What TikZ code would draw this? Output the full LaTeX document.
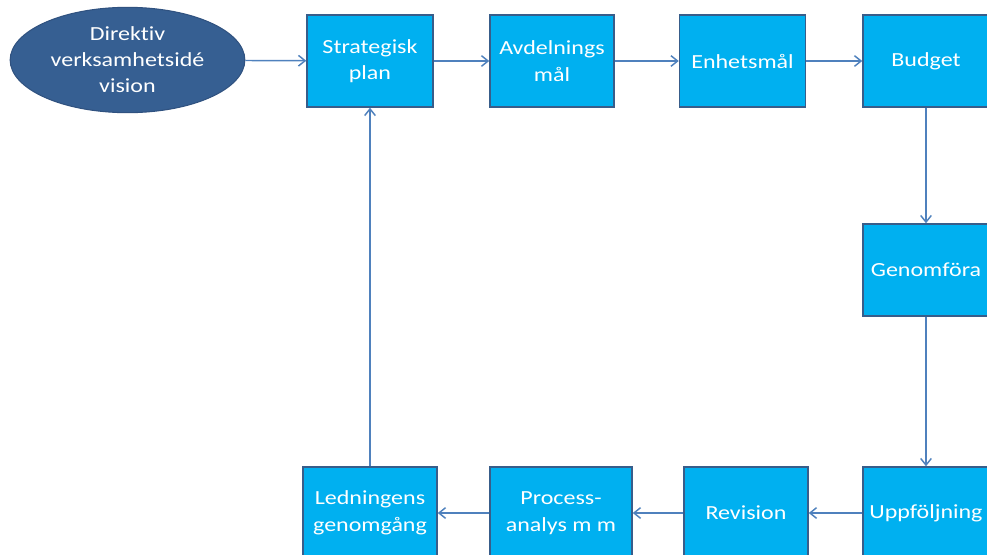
\documentclass[tikz,border=0pt]{standalone}
\usepackage{fontspec}
\setmainfont[FakeStretch=1.2,Ligatures={NoCommon}]{Carlito}
\usetikzlibrary{arrows.meta,shapes.geometric}

\tikzset{every picture/.style={line width=0.75pt}}
\tikzset{
  stepbox/.style={draw={rgb, 255:red, 56; green, 93; blue, 138}, fill={rgb, 255:red, 0; green, 176; blue, 240}, line width=1.1pt,
    rectangle, minimum width=94.5pt, minimum height=69pt, inner sep=0pt, align=center, text=white,
    font=\fontsize{15}{20}\selectfont},
  visionshape/.style={ellipse, draw={rgb, 255:red, 48; green, 82; blue, 128}, fill={rgb, 255:red, 54; green, 95; blue, 146}, line width=0.8pt,
    minimum width=176pt, minimum height=79pt, inner sep=0pt, align=center, text=white,
    font=\fontsize{15}{19.5}\selectfont},
  flow/.style={draw={rgb, 255:red, 79; green, 129; blue, 189}, line width=1.1pt, -{Straight Barb[length=5pt,width=8pt]}}
}

\begin{document}
\begin{tikzpicture}[x=0.75pt,y=0.75pt,yscale=-1,xscale=1]
\useasboundingbox (0,0) rectangle (987,554);
\clip (0,0) rectangle (987,554);

%Shape: Ellipse
\node [visionshape] (vision) at (127.5,60) {Direktiv\\verksamhetsidé\\vision};

%Top row
\node [stepbox] (strat) at (370,61) {Strategisk\\plan};
\node [stepbox, minimum width=93pt] (avd) at (552,61) {Avdelnings\\mål};
\node [stepbox] (enhet) at (742.5,61) {Enhetsmål};
\node [stepbox] (budget) at (926,61) {Budget};

%Right column
\node [stepbox] (genom) at (926,270) {Genomföra};

%Bottom row
\node [stepbox] (uppf) at (926,513) {Uppföljning};
\node [stepbox, minimum width=93pt] (rev) at (746,513) {Revision};
\node [stepbox, minimum width=106.5pt] (proc) at (561,513) {Process-\\analys m m};
\node [stepbox, minimum width=100.5pt] (led) at (370,513) {Ledningens\\genomgång};

%Connectors
\draw [flow] (vision) -- (strat);
\draw [flow] (strat) -- (avd);
\draw [flow] (avd) -- (enhet);
\draw [flow] (enhet) -- (budget);
\draw [flow] (budget) -- (genom);
\draw [flow] (genom) -- (uppf);
\draw [flow] (uppf) -- (rev);
\draw [flow] (rev) -- (proc);
\draw [flow] (proc) -- (led);
\draw [flow] (led) -- (strat);

\end{tikzpicture}
\end{document}
